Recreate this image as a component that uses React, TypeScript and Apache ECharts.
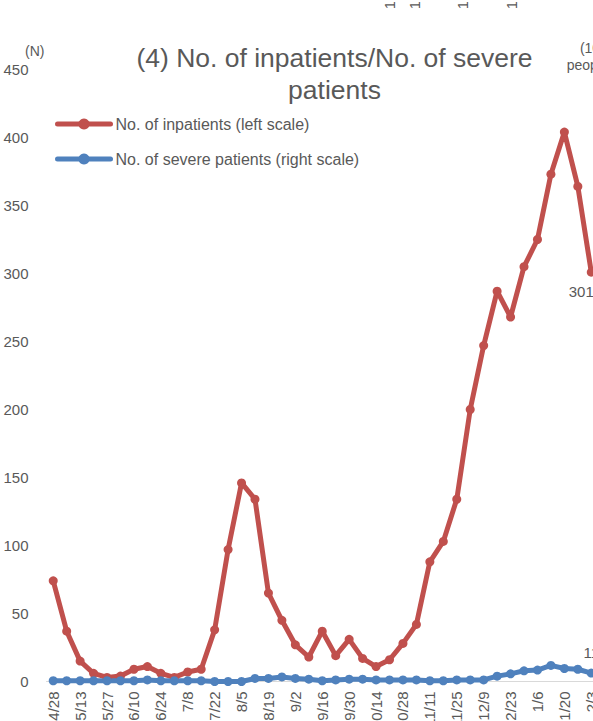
import React, { useEffect, useRef } from "react";
import * as echarts from "echarts";

const categories = [
  "4/28", "5/6", "5/13", "5/20", "5/27", "6/3", "6/10", "6/17", "6/24", "7/1",
  "7/8", "7/15", "7/22", "7/29", "8/5", "8/12", "8/19", "8/26", "9/2", "9/9",
  "9/16", "9/23", "9/30", "10/7", "10/14", "10/21", "10/28", "11/4", "11/11", "11/18",
  "11/25", "12/2", "12/9", "12/16", "12/23", "12/30", "1/6", "1/13", "1/20", "1/27",
  "2/3",
];

const inpatients = [
  74, 37, 15, 6, 3, 4, 9, 11, 6, 3,
  7, 9, 38, 97, 146, 134, 65, 45, 27, 18,
  37, 19, 31, 17, 11, 16, 28, 42, 88, 103,
  134, 200, 247, 287, 268, 305, 325, 373, 404, 364,
  301,
];

const severe = [
  1, 1, 1, 1, 1, 1, 1, 2, 1, 1,
  1, 1, 0, 0, 0, 4, 4, 6, 4, 3,
  1, 2, 3, 3, 2, 2, 2, 2, 1, 1,
  2, 2, 2, 7, 10, 14, 15, 21, 17, 16,
  11,
];

const seriesNames = ["No. of inpatients (left scale)", "No. of severe patients (right scale)"];
const titleText = "(4) No. of inpatients/No. of severe\npatients";
const leftUnit = "(N)";
const rightUnit = "(10\npeople)";
const topFragments = ["1", "1", "1", "1"];
const topFragmentX = [390, 415, 463, 512];

const FONT = "'Liberation Sans', Arial, sans-serif";
const GRAY = "#595959";
const RED = "#C0504D";
const BLUE = "#4F81BD";

export default function App() {
  const ref = useRef<HTMLDivElement>(null);
  useEffect(() => {
    if (!ref.current) return;
    const chart = echarts.init(ref.current, undefined, { renderer: "svg" });
    const last = inpatients.length - 1;
    chart.setOption({
      animation: false,
      backgroundColor: "#ffffff",
      textStyle: { fontFamily: FONT },
      title: {
        text: titleText,
        left: 334.5,
        top: 42,
        padding: 0,
        textAlign: "center",
        textStyle: {
          fontFamily: FONT,
          fontSize: 26.5,
          fontWeight: "normal",
          color: GRAY,
          lineHeight: 32,
        },
      },
      legend: {
        orient: "vertical",
        left: 50,
        top: 110,
        itemWidth: 53,
        itemHeight: 14,
        itemGap: 17,
        lineStyle: { width: 5, cap: "round" },
        textStyle: { fontFamily: FONT, fontSize: 16, color: GRAY, lineHeight: 18 },
        data: seriesNames,
      },
      grid: { left: 46.5, top: 69.5, width: 551.5, height: 612 },
      xAxis: {
        type: "category",
        data: categories,
        boundaryGap: true,
        axisLine: { lineStyle: { color: "#D9D9D9", width: 1 } },
        axisTick: { show: false },
        axisLabel: {
          interval: 1,
          rotate: 90,
          margin: 10,
          fontSize: 15,
          color: GRAY,
          fontFamily: FONT,
        },
        splitLine: { show: false },
      },
      yAxis: [
        {
          type: "value",
          min: 0,
          max: 450,
          interval: 50,
          axisLine: { show: false },
          axisTick: { show: false },
          splitLine: { show: false },
          axisLabel: { fontSize: 15, color: GRAY, margin: 18, fontFamily: FONT },
        },
        {
          type: "value",
          min: 0,
          max: 800,
          interval: 100,
          position: "right",
          axisLine: { show: false },
          axisTick: { show: false },
          splitLine: { show: false },
          axisLabel: { show: false },
        },
      ],
      graphic: [
        {
          type: "text",
          left: 25,
          top: 44,
          style: { text: leftUnit, fontSize: 14, fill: GRAY, fontFamily: FONT },
        },
        {
          type: "text",
          x: 590,
          y: 39,
          style: {
            text: rightUnit,
            fontSize: 14,
            lineHeight: 17,
            fill: GRAY,
            fontFamily: FONT,
            align: "center",
            textAlign: "center",
          },
        },
        ...topFragments.map((t, i) => ({
          type: "text",
          x: topFragmentX[i],
          y: 9,
          rotation: Math.PI / 2,
          style: {
            text: t,
            fontSize: 14,
            fill: GRAY,
            fontFamily: FONT,
            textAlign: "left",
            textVerticalAlign: "middle",
          },
        })),
      ],
      series: [
        {
          name: seriesNames[0],
          type: "line",
          yAxisIndex: 0,
          symbol: "circle",
          symbolSize: 9,
          showAllSymbol: true,
          lineStyle: { color: RED, width: 5, cap: "round", join: "round" },
          itemStyle: { color: RED },
          data: inpatients.map((v, i) =>
            i === last
              ? {
                  value: v,
                  label: {
                    show: true,
                    position: "bottom",
                    distance: 7,
                    offset: [-10, 0],
                    fontSize: 15,
                    color: GRAY,
                    fontFamily: FONT,
                  },
                }
              : v
          ),
        },
        {
          name: seriesNames[1],
          type: "line",
          yAxisIndex: 1,
          symbol: "circle",
          symbolSize: 9,
          showAllSymbol: true,
          lineStyle: { color: BLUE, width: 5, cap: "round", join: "round" },
          itemStyle: { color: BLUE },
          data: severe.map((v, i) =>
            i === last
              ? {
                  value: v,
                  label: {
                    show: true,
                    position: "top",
                    distance: 9,
                    fontSize: 15,
                    color: GRAY,
                    fontFamily: FONT,
                  },
                }
              : v
          ),
        },
      ],
    });
    return () => chart.dispose();
  }, []);
  return (
    <div
      style={{
        position: "fixed",
        left: 0,
        top: 0,
        width: 593,
        height: 721,
        overflow: "hidden",
        background: "#ffffff",
      }}
    >
      <div ref={ref} style={{ position: "absolute", left: 0, top: 0, width: 660, height: 760 }} />
    </div>
  );
}
